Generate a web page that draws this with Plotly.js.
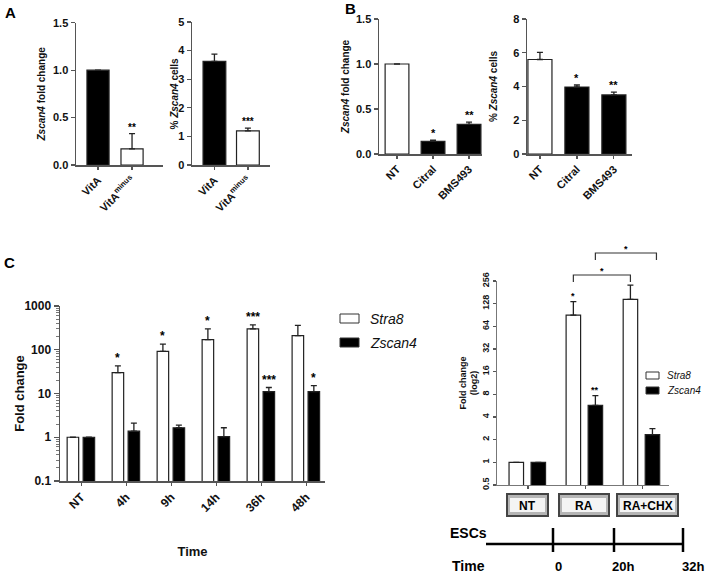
<!DOCTYPE html>
<html>
<head>
<meta charset="utf-8">
<script src="https://cdn.plot.ly/plotly-3.0.1.min.js"></script>
<style>html,body{margin:0;padding:0;background:#fff;}#chart{width:708px;height:574px;}</style>
</head>
<body>
<div id="chart"></div>
<script>
// ---------- DATA ----------
const catA = ['VitA', 'VitA<sup>minus</sup>'];
const aFold = [1.0, 0.17];
const aFoldSem = [null, 0.16];
const aFoldStars = ['', '**'];
const aPct = [3.62, 1.19];
const aPctSem = [0.26, 0.10];
const aPctStars = ['', '***'];

const catB = ['NT', 'Citral', 'BMS493'];
const bFold = [1.0, 0.14, 0.33];
const bFoldSem = [null, 0.015, 0.025];
const bFoldStars = ['', '*', '**'];
const bPct = [5.6, 3.97, 3.5];
const bPctSem = [0.42, 0.12, 0.17];
const bPctStars = ['', '*', '**'];

const catC = ['NT', '4h', '9h', '14h', '36h', '48h'];
const cStra8 = [1, 30, 92, 170, 300, 210];
const cStra8Sem = [null, 13, 42, 130, 70, 150];
const cStra8Stars = ['', '*', '*', '*', '***', ''];
const cZscan4 = [1, 1.38, 1.65, 1.03, 11, 11];
const cZscan4Sem = [null, 0.72, 0.25, 0.62, 2.7, 4.2];
const cZscan4Stars = ['', '', '', '', '***', '*'];
const cTicks = [0.1, 1, 10, 100, 1000];

const catD = ['NT', 'RA', 'RA+CHX'];
const dStra8 = [1, 90, 146];
const dStra8Sem = [null, 46, 80];
const dStra8Stars = ['', '*', ''];
const dZscan4 = [1, 5.7, 2.33];
const dZscan4Sem = [null, 2.0, 0.47];
const dZscan4Stars = ['', '**', ''];
const dTicks = [0.5, 1, 2, 4, 8, 16, 32, 64, 128, 256];

const timeLabels = ['0', '20h', '32h'];

// ---------- HELPERS ----------
const W = 708, H = 574;
const px = v => v / W;
const py = v => 1 - v / H;
const FONT = 'Arial, "Liberation Sans", sans-serif';
const DARK = '#222';
const AX = '#555';

function err(sem, w) {
  return {type: 'data', symmetric: false, array: sem, arrayminus: sem.map(() => 0),
          color: DARK, thickness: 1.3, width: w || 3};
}
function bar(cats, vals, sem, fill, xa, ya, width, offset, name, ew) {
  return {type: 'bar', x: cats, y: vals, xaxis: xa, yaxis: ya, name: name,
          width: width, offset: offset, showlegend: false,
          marker: {color: fill, line: {color: DARK, width: 1.2}},
          error_y: err(sem, ew), hoverinfo: 'x+y'};
}

const traces = [
  bar(catA, aFold, aFoldSem, catA.map((c, i) => i === 0 ? '#000' : '#fff'), 'x', 'y', 0.65, -0.325, 'fold'),
  bar(catA, aPct, aPctSem, catA.map((c, i) => i === 0 ? '#000' : '#fff'), 'x2', 'y2', 0.68, -0.34, 'pct'),
  bar(catB, bFold, bFoldSem, catB.map((c, i) => i === 0 ? '#fff' : '#000'), 'x3', 'y3', 0.66, -0.33, 'fold'),
  bar(catB, bPct, bPctSem, catB.map((c, i) => i === 0 ? '#fff' : '#000'), 'x4', 'y4', 0.65, -0.325, 'pct'),
  bar(catC, cStra8, cStra8Sem, '#fff', 'x5', 'y5', 0.256, -0.311, 'Stra8'),
  bar(catC, cZscan4, cZscan4Sem, '#000', 'x5', 'y5', 0.256, 0.044, 'Zscan4'),
  bar(catD, dStra8, dStra8Sem, '#fff', 'x6', 'y6', 0.254, -0.333, 'Stra8'),
  bar(catD, dZscan4, dZscan4Sem, '#000', 'x6', 'y6', 0.254, 0.053, 'Zscan4')
];

function xax(dom, range, size, anchor, extra) {
  return Object.assign({domain: dom, range: range, anchor: anchor, type: 'category',
    showline: true, linecolor: AX, linewidth: 1.5, ticks: 'outside', ticklen: 3, tickcolor: AX,
    tickwidth: 1.2, tickangle: -45, showgrid: false, zeroline: false,
    tickfont: {family: FONT, size: size, color: '#111', weight: 'bold'}}, extra || {});
}
function yax(dom, range, size, anchor, title, tsize, extra) {
  return Object.assign({domain: dom, range: range, anchor: anchor,
    showline: true, linecolor: AX, linewidth: 1.5, ticks: 'outside', ticklen: 4, tickcolor: AX,
    tickwidth: 1.2, showgrid: false, zeroline: false,
    tickfont: {family: FONT, size: size, color: '#111', weight: 'bold'},
    title: {text: title, font: {family: FONT, size: tsize, color: '#111', weight: 'bold'}}}, extra || {});
}

// minor tick positions for the log axis of panel C (axis decoration)
const minorC = [];
[0.1, 1, 10, 100].forEach(d => { for (let k = 2; k <= 9; k++) minorC.push(d * k); });

const layout = {
  width: W, height: H, margin: {l: 0, r: 0, t: 0, b: 0},
  paper_bgcolor: '#fff', plot_bgcolor: 'rgba(0,0,0,0)',
  barmode: 'overlay', showlegend: false,
  font: {family: FONT, color: '#111'},
  xaxis:  xax([px(76), px(163)], [-0.647, 1.91], 11, 'y'),
  yaxis:  yax([py(165), py(22.7)], [0, 1.5], 11, 'x', '<b><i>Zscan4</i> fold change</b>', 10,
              {tickvals: [0, 0.5, 1, 1.5], ticktext: ['0.0', '0.5', '1.0', '1.5']}),
  xaxis2: xax([px(192), px(270)], [-0.67, 1.66], 11, 'y2'),
  yaxis2: yax([py(165), py(22)], [0, 5], 11, 'x2', '', 10, {dtick: 1}),
  xaxis3: xax([px(379), px(482)], [-0.5, 2.36], 11, 'y3'),
  yaxis3: yax([py(154), py(19)], [0, 1.5], 11, 'x3', '<b><i>Zscan4</i> fold change</b>', 10,
              {tickvals: [0, 0.5, 1, 1.5], ticktext: ['0.0', '0.5', '1.0', '1.5']}),
  xaxis4: xax([px(527), px(632)], [-0.35, 2.49], 11, 'y4'),
  yaxis4: yax([py(154), py(19)], [0, 8], 11, 'x4', '<b>% <i>Zscan4</i> cells</b>', 10, {dtick: 2}),
  xaxis5: xax([px(60), px(325)], [-0.47, 5.42], 12, 'y5',
              {title: {text: '<b>Time</b>', standoff: 33, font: {family: FONT, size: 13, color: '#111'}}}),
  yaxis5: yax([py(481), py(306)], [-1, 3], 12, 'x5', '<b>Fold change</b>', 13,
              {type: 'log', tickvals: cTicks, ticktext: cTicks.map(String), ticklen: 5,
               minor: {ticks: 'outside', ticklen: 2.5, tickcolor: '#777', tickwidth: 1,
                       tickmode: 'array', tickvals: minorC, showgrid: false}}),
  xaxis6: xax([px(497), px(669)], [-0.544, 2.47], 9, 'y6',
              {showticklabels: false, linecolor: '#777', linewidth: 1.2}),
  yaxis6: yax([py(485), py(281)], [Math.log10(0.5), Math.log10(256)], 9, 'x6',
              '<b>Fold change<br>(log2)</b>', 9,
              {type: 'log', tickvals: dTicks, ticktext: dTicks.map(String), tickangle: -90,
               linecolor: '#777', linewidth: 1.2, ticklen: 3}),
  annotations: [],
  shapes: []
};

const ann = layout.annotations, shp = layout.shapes;
function stars(list, vals, sem, xa, ya, off, size) {
  list.forEach((s, i) => {
    if (!s) return;
    const top = vals[i] + (sem[i] || 0);
    ann.push({x: i + off, y: ya === 'y5' || ya === 'y6' ? Math.log10(top) : top,
      xref: xa, yref: ya, text: '<b>' + s + '</b>', showarrow: false,
      xanchor: 'center', yanchor: 'bottom',
      yshift: -1, font: {family: FONT, size: size, color: '#000'}});
  });
}
stars(aFoldStars, aFold, aFoldSem, 'x', 'y', 0, 10);
stars(aPctStars, aPct, aPctSem, 'x2', 'y2', 0, 10);
stars(bFoldStars, bFold, bFoldSem, 'x3', 'y3', 0, 11);
stars(bPctStars, bPct, bPctSem, 'x4', 'y4', 0, 11);
stars(cStra8Stars, cStra8, cStra8Sem, 'x5', 'y5', -0.183, 12);
stars(cZscan4Stars, cZscan4, cZscan4Sem, 'x5', 'y5', 0.172, 12);
stars(dStra8Stars, dStra8, dStra8Sem, 'x6', 'y6', -0.206, 9);
stars(dZscan4Stars, dZscan4, dZscan4Sem, 'x6', 'y6', 0.18, 9);

function ptext(x, y, text, size, xanchor, extra) {
  ann.push(Object.assign({x: px(x), y: py(y), xref: 'paper', yref: 'paper', text: text, showarrow: false,
    xanchor: xanchor || 'center', yanchor: 'middle', font: {family: FONT, size: size, color: '#000'}}, extra || {}));
}

// y title of panel A right (placed close to its narrow tick labels)
ptext(174, 93.5, '<b>% <i>Zscan4</i> cells</b>', 10, 'center', {textangle: -90, font: {family: FONT, size: 10, color: '#111'}});

// panel letters
[['A', 10, 12], ['B', 350, 9], ['C', 9, 262]].forEach(([t, x, y]) => ptext(x, y, '<b>' + t + '</b>', 15));

// legends (C left and C right)
function legendItem(x0, y0, w, h, fill, label, size, tx) {
  shp.push({type: 'rect', xref: 'paper', yref: 'paper', x0: px(x0), x1: px(x0 + w), y0: py(y0 + h), y1: py(y0),
    fillcolor: fill, line: {color: '#333', width: 1}});
  ptext(tx, y0 + h / 2, '<i>' + label + '</i>', size, 'left', {font: {family: FONT, size: size, color: '#111'}});
}
legendItem(340, 314, 19, 9, '#fff', 'Stra8', 14, 368);
legendItem(340, 338, 19, 9, '#000', 'Zscan4', 14, 368);
legendItem(646, 372, 13, 7, '#fff', 'Stra8', 10, 665);
legendItem(646, 387, 13, 7, '#000', 'Zscan4', 10, 665);

// significance brackets in C right
function bracket(xa, xb, ytop, yleg, label) {
  shp.push({type: 'path', xref: 'x6', yref: 'paper',
    path: `M${xa},${py(yleg)} L${xa},${py(ytop)} L${xb},${py(ytop)} L${xb},${py(yleg)}`,
    line: {color: '#333', width: 1.2}});
  ann.push({x: (xa + xb) / 2, y: py(ytop), xref: 'x6', yref: 'paper', xanchor: 'center', yanchor: 'bottom', yshift: -3,
    text: '<b>' + label + '</b>', showarrow: false, font: {family: FONT, size: 9, color: '#000'}});
}
bracket(1 - 0.206, 2 - 0.206, 275, 282, '*');
bracket(1 + 0.18, 2 + 0.25, 253, 260, '*');

// treatment boxes
catD.forEach((c, i) => {
  const xs = [[507, 548], [559, 609], [617, 678]][i];
  shp.push({type: 'rect', xref: 'paper', yref: 'paper', x0: px(xs[0]), x1: px(xs[1]), y0: py(516), y1: py(494),
    fillcolor: '#b5b5b5', line: {color: '#444', width: 2}});
  shp.push({type: 'rect', xref: 'paper', yref: 'paper', x0: px(xs[0] + 3), x1: px(xs[1] - 3), y0: py(512), y1: py(498),
    fillcolor: '#f4f4f4', line: {width: 0}});
  ptext((xs[0] + xs[1]) / 2, 505.5, '<b>' + c + '</b>', 12);
});

// timeline
shp.push({type: 'line', xref: 'paper', yref: 'paper', x0: px(486), x1: px(683), y0: py(544), y1: py(544),
  line: {color: '#000', width: 2.5}});
[553, 614, 683].forEach((x, i) => {
  shp.push({type: 'line', xref: 'paper', yref: 'paper', x0: px(x), x1: px(x), y0: py(528), y1: py(552),
    line: {color: '#000', width: 2.5}});
  ptext(x + [5, 9, 10][i], 566, '<b>' + timeLabels[i] + '</b>', 13);
});
ptext(468, 533, '<b>ESCs</b>', 14);
ptext(468, 566, '<b>Time</b>', 14);

Plotly.newPlot('chart', traces, layout, {displayModeBar: false, staticPlot: true});
</script>
</body>
</html>
